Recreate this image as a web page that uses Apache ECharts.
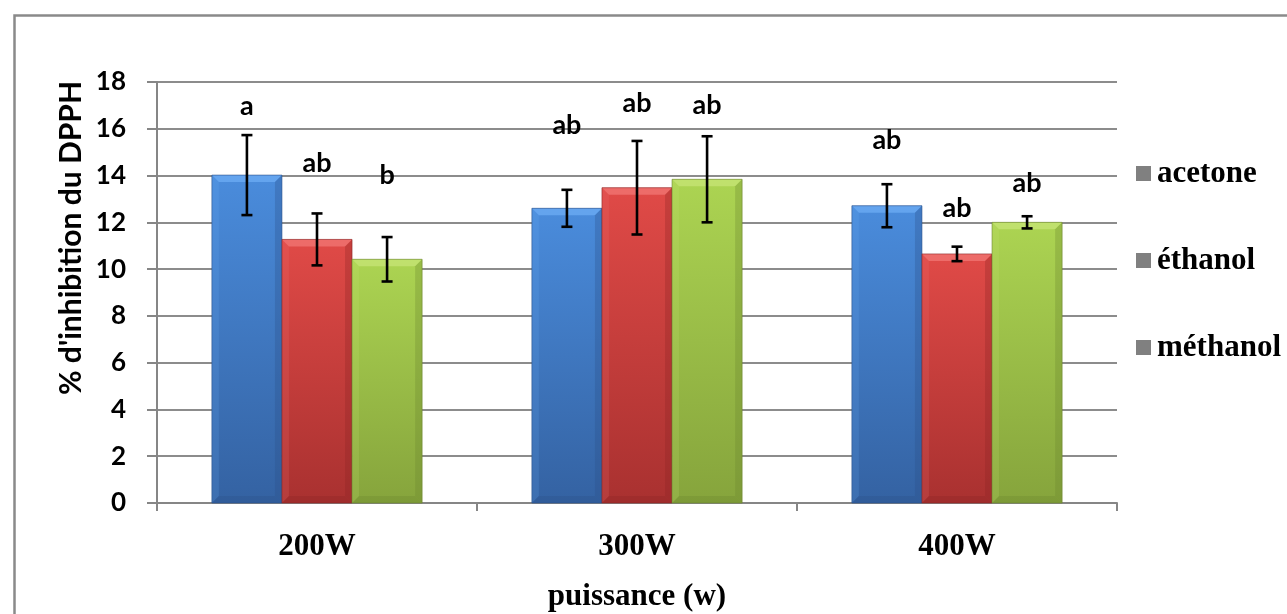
<!DOCTYPE html>
<html>
<head>
<meta charset="utf-8">
<script src="https://cdn.jsdelivr.net/npm/echarts@6/dist/echarts.min.js"></script>
<style>
  html, body { margin: 0; padding: 0; background: #fff; }
  #chart { width: 1287px; height: 614px; }
</style>
</head>
<body>
<div id="chart"></div>
<script>
// Microwave power levels and extraction solvents
const categories = ['200W', '300W', '400W'];
const solvents = ['acetone', 'éthanol', 'méthanol'];
const yTitle = "% d'inhibition du DPPH";

// % DPPH inhibition (mean) per solvent, one value per power level
const acetone = [14.02, 12.60, 12.71];
const ethanol = [11.27, 13.48, 10.65];
const methanol = [10.42, 13.84, 12.00];

// standard deviations
const acetoneErr = [1.71, 0.79, 0.92];
const ethanolErr = [1.11, 2.00, 0.31];
const methanolErr = [0.95, 1.84, 0.26];

// significance letters and the height (in % units) where each is written
const acetoneLetters = ['a', 'ab', 'ab'];
const ethanolLetters = ['ab', 'ab', 'ab'];
const methanolLetters = ['b', 'ab', 'ab'];
const acetoneLetterAt = [16.94, 16.16, 15.52];
const ethanolLetterAt = [14.53, 17.09, 12.60];
const methanolLetterAt = [14.02, 17.00, 13.67];

const yTicks = { min: 0, max: 18, interval: 2 };

const seriesValues = [acetone, ethanol, methanol];
const seriesErrors = [acetoneErr, ethanolErr, methanolErr];
const seriesLetters = [acetoneLetters, ethanolLetters, methanolLetters];
const seriesLetterAt = [acetoneLetterAt, ethanolLetterAt, methanolLetterAt];

// bevelled bar palettes: [top, bottom, bevel light, edge dark]
const palettes = [
  ['#4a8cdc', '#3462a2', '#6aaaf2', '#2a5088'],
  ['#e04a47', '#a93130', '#f07472', '#8a2626'],
  ['#acd452', '#86a43c', '#c6e474', '#6a8430']
];

const BAR_FRAC = 0.219;   // share of the category band taken by one bar

function barGeom(api, s) {
  const c = api.value(0);
  const base = api.coord([c, 0]);
  const band = api.size([1, 0])[0];
  const bw = band * BAR_FRAC;
  const x0 = base[0] - 1.5 * bw + s * bw;
  return { x0: x0, bw: bw, cx: x0 + bw / 2, yb: base[1] };
}

function barRenderer(s) {
  const p = palettes[s];
  return function (params, api) {
    const g = barGeom(api, s);
    const yt = api.coord([api.value(0), api.value(1)])[1];
    const x0 = g.x0, x1 = g.x0 + g.bw, yb = g.yb;
    const b = 7;
    return {
      type: 'group',
      children: [
        { type: 'rect', shape: { x: x0, y: yt, width: g.bw, height: yb - yt },
          style: { fill: new echarts.graphic.LinearGradient(0, 0, 0, 1, [
            { offset: 0, color: p[0] }, { offset: 1, color: p[1] }]) } },
        { type: 'polygon', shape: { points: [[x0, yt], [x1, yt], [x1 - b, yt + b], [x0 + b, yt + b]] },
          style: { fill: p[2], opacity: 0.8 } },
        { type: 'polygon', shape: { points: [[x0, yt], [x0 + b, yt + b], [x0 + b, yb - b], [x0, yb]] },
          style: { fill: p[2], opacity: 0.18 } },
        { type: 'polygon', shape: { points: [[x1, yt], [x1 - b, yt + b], [x1 - b, yb - b], [x1, yb]] },
          style: { fill: p[3], opacity: 0.3 } },
        { type: 'polygon', shape: { points: [[x0, yb], [x1, yb], [x1 - b, yb - b], [x0 + b, yb - b]] },
          style: { fill: p[3], opacity: 0.3 } },
        { type: 'rect', shape: { x: x0, y: yt, width: g.bw, height: yb - yt },
          style: { fill: 'none', stroke: p[3], lineWidth: 1, opacity: 0.6 } }
      ]
    };
  };
}

function errorRenderer(s) {
  return function (params, api) {
    const g = barGeom(api, s);
    const c = api.value(0), v = api.value(1), e = api.value(2);
    const hi = api.coord([c, v + e])[1];
    const lo = api.coord([c, v - e])[1];
    const cap = 5.5;
    const st = { stroke: '#000', lineWidth: 2.6 };
    return {
      type: 'group',
      children: [
        { type: 'line', shape: { x1: g.cx, y1: hi, x2: g.cx, y2: lo }, style: st },
        { type: 'line', shape: { x1: g.cx - cap, y1: hi, x2: g.cx + cap, y2: hi }, style: st },
        { type: 'line', shape: { x1: g.cx - cap, y1: lo, x2: g.cx + cap, y2: lo }, style: st }
      ]
    };
  };
}

function letterRenderer(s) {
  return function (params, api) {
    const g = barGeom(api, s);
    const y = api.coord([api.value(0), api.value(1)])[1];
    return {
      type: 'text',
      x: g.cx, y: y,
      style: {
        text: seriesLetters[s][params.dataIndex],
        fill: '#000',
        font: 'bold 27px Lato, "Open Sans", sans-serif',
        align: 'center', verticalAlign: 'middle'
      }
    };
  };
}

const series = [];
solvents.forEach(function (name, s) {
  series.push({
    name: name, type: 'custom', renderItem: barRenderer(s),
    itemStyle: { color: '#808080' },
    encode: { x: 0, y: 1 },
    data: categories.map(function (c, i) { return [i, seriesValues[s][i]]; }),
    z: 2
  });
});
solvents.forEach(function (name, s) {
  series.push({
    type: 'custom', renderItem: errorRenderer(s),
    encode: { x: 0, y: [1, 2] },
    data: categories.map(function (c, i) { return [i, seriesValues[s][i], seriesErrors[s][i]]; }),
    z: 3, silent: true
  });
  series.push({
    type: 'custom', renderItem: letterRenderer(s),
    encode: { x: 0, y: 1 },
    data: categories.map(function (c, i) { return [i, seriesLetterAt[s][i]]; }),
    z: 4, silent: true
  });
});

const chart = echarts.init(document.getElementById('chart'), null, { renderer: 'canvas' });
chart.setOption({
  animation: false,
  backgroundColor: '#fff',
  graphic: [{
    type: 'rect', left: 12, top: 13,
    shape: { width: 1300, height: 600 },
    style: { fill: 'none', stroke: '#8a8a8a', lineWidth: 2.5 },
    z: -1
  }, {
    // vertical axis title, set slightly above the axis middle
    type: 'text', x: 71, y: 238, rotation: Math.PI / 2,
    style: {
      text: yTitle, fill: '#000',
      font: 'bold 30px Lato, "Open Sans", sans-serif',
      align: 'center', verticalAlign: 'middle'
    }
  }],
  grid: { left: 157, right: 170, top: 82, bottom: 111, containLabel: false, outerBoundsMode: 'none' },
  legend: {
    orient: 'vertical',
    left: 1131, top: 153,
    itemWidth: 15, itemHeight: 15, itemGap: 56,
    icon: 'rect',
    itemStyle: { color: '#808080' },
    textStyle: { fontFamily: '"Liberation Serif", "Times New Roman", serif', fontWeight: 'bold', fontSize: 31, color: '#000', padding: [0, 0, 0, 1] },
    data: solvents
  },
  xAxis: {
    type: 'category',
    data: categories,
    boundaryGap: true,
    name: 'puissance (w)',
    nameLocation: 'middle',
    nameGap: 78,
    nameTextStyle: { fontFamily: '"Liberation Serif", "Times New Roman", serif', fontWeight: 'bold', fontSize: 31, color: '#000' },
    axisLine: { lineStyle: { color: '#868686', width: 2 } },
    axisTick: { show: true, length: 8, lineStyle: { color: '#868686', width: 2 } },
    axisLabel: { margin: 28, fontFamily: '"Liberation Serif", "Times New Roman", serif', fontWeight: 'bold', fontSize: 31, color: '#000' },
    splitLine: { show: false }
  },
  yAxis: {
    type: 'value',
    min: yTicks.min, max: yTicks.max, interval: yTicks.interval,
    axisLine: { show: true, lineStyle: { color: '#868686', width: 2 } },
    axisTick: { show: true, length: 10, lineStyle: { color: '#868686', width: 2 } },
    axisLabel: { margin: 31, fontFamily: 'Lato, "Open Sans", sans-serif', fontWeight: 'bold', fontSize: 26, color: '#000' },
    splitLine: { lineStyle: { color: '#8c8c8c', width: 2 } }
  },
  series: series
});
</script>
</body>
</html>
